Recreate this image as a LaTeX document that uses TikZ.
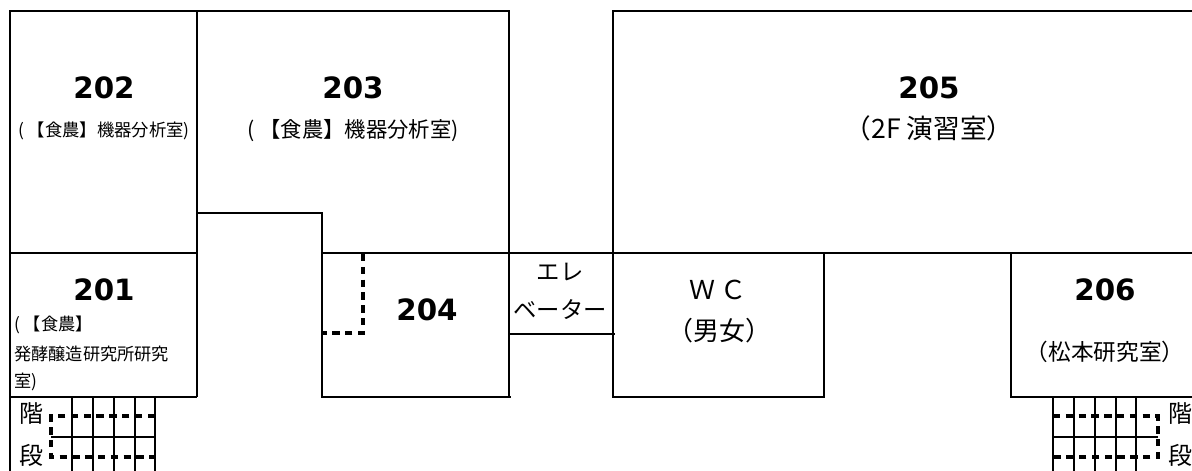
\documentclass[tikz,border=0pt]{standalone}
\usepackage{fontspec}
\setmainfont{Noto Sans CJK JP}
\newfontfamily\numfont{DejaVu Sans}[BoldFont={DejaVu Sans Bold}]
\tikzset{
  wall/.style={line width=2.2pt},
  dashwall/.style={line width=2.6pt, dash pattern=on 5.6pt off 4pt},
  roomno/.style={font=\numfont\bfseries\fontsize{22}{22}\selectfont, inner sep=0pt},
  roomname/.style={inner sep=0pt, align=center},
}
\begin{document}
\begin{tikzpicture}[x=0.75pt, y=-0.75pt]
    \useasboundingbox (0,0) rectangle (1192,471);

    % upper rooms
    \draw[wall] (10,253) -- (10,11) -- (509,11) -- (509,397);
    \draw[wall] (197,11) -- (197,397);
    \draw[wall] (197,213) -- (322,213) -- (322,397) -- (511,397);
    \draw[wall] (10,253) -- (197,253);
    \draw[wall] (322,253) -- (1192,253);
    \draw[wall] (1192,11) -- (613,11) -- (613,397) -- (824,397) -- (824,253);

    % 201 and 206
    \draw[wall] (10,253) -- (10,471);
    \draw[wall] (10,397) -- (197,397);
    \draw[wall] (1192,397) -- (1011,397) -- (1011,253);

    % elevator and closet
    \draw[wall] (509,334) -- (615,334);
    \draw[dashwall] (363,254) -- (363,333) -- (323,333);

    % left stairs
    \foreach \x in {72,93,114,135,155}
        \draw[wall] (\x,397) -- (\x,471);
    \draw[wall] (51,437) -- (155,437);
    \draw[dashwall] (155,416) -- (51,416) -- (51,457) -- (155,457);

    % right stairs
    \foreach \x in {1053,1074,1095,1116,1136}
        \draw[wall] (\x,397) -- (\x,471);
    \draw[wall] (1053,437) -- (1158,437);
    \draw[dashwall] (1053,416) -- (1158,416) -- (1158,457) -- (1053,457);

    \node[roomno] (no202) at (104,88) {202};
    \node[roomname, font=\fontsize{13}{13}\selectfont] (name202) at (104,131) {( 【食農】機器分析室)};
    \node[roomno] (no203) at (353,88) {203};
    \node[roomname, font=\fontsize{16}{16}\selectfont] (name203) at (353,131) {( 【食農】機器分析室)};
    \node[roomno] (no205) at (929,88) {205};
    \node[roomname, font=\fontsize{20}{20}\selectfont] (name205) at (929,128) {（2F 演習室）};

    \node[roomno] (no201) at (104,290) {201};
    \node[roomname, anchor=west, font=\fontsize{12.9}{12.9}\selectfont] (name201a) at (14,325) {( 【食農】};
    \node[roomname, anchor=west, font=\fontsize{12.9}{12.9}\selectfont] (name201b) at (14,354) {発酵醸造研究所研究};
    \node[roomname, anchor=west, font=\fontsize{12.9}{12.9}\selectfont] (name201c) at (14,382) {室)};
    \node[roomno] (no204) at (427,310) {204};
    \node[roomname, font=\fontsize{17.5}{17.5}\selectfont] (elevA) at (560,272) {エレ};
    \node[roomname, font=\fontsize{17.5}{17.5}\selectfont] (elevB) at (560,310) {ベーター};
    \node[roomname, font=\fontsize{19.5}{19.5}\selectfont] (wc) at (718,290) {Ｗ Ｃ};
    \node[roomname, font=\fontsize{19.5}{19.5}\selectfont] (wcname) at (719,331) {（男女）};
    \node[roomno] (no206) at (1105,290) {206};
    \node[roomname, font=\fontsize{17}{17}\selectfont] (name206) at (1105,352) {（松本研究室）};

    \node[roomname, font=\fontsize{18}{18}\selectfont] (stairLa) at (31,414) {階};
    \node[roomname, font=\fontsize{18}{18}\selectfont] (stairLb) at (31,455) {段};
    \node[roomname, font=\fontsize{18}{18}\selectfont] (stairRa) at (1180,414) {階};
    \node[roomname, font=\fontsize{18}{18}\selectfont] (stairRb) at (1180,455) {段};
\end{tikzpicture}
\end{document}
